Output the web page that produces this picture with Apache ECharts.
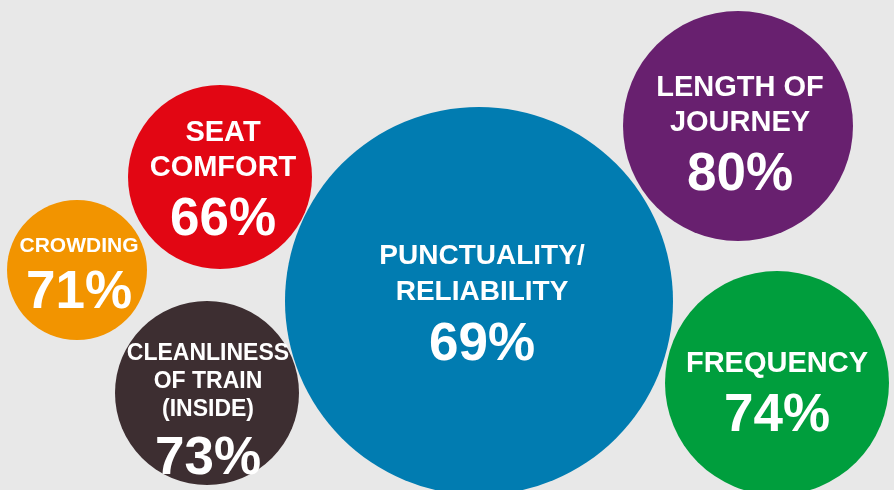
<!DOCTYPE html>
<html>
<head>
<meta charset="utf-8">
<script src="https://cdn.jsdelivr.net/npm/echarts@6/dist/echarts.min.js"></script>
<style>
html,body{margin:0;padding:0;background:#e8e8e8;}
#chart{width:894px;height:490px;}
</style>
</head>
<body>
<div id="chart"></div>
<script>
// Categories and satisfaction values
var categories = ['PUNCTUALITY/\nRELIABILITY', 'LENGTH OF\nJOURNEY', 'FREQUENCY', 'SEAT\nCOMFORT', 'CROWDING', 'CLEANLINESS\nOF TRAIN\n(INSIDE)'];
var satisfaction = [69, 80, 74, 66, 71, 73];
// Bubble layout (chart units) and bubble radius
var bubbleX = [479, 738, 777, 220, 77, 207];
var bubbleY = [301, 126, 383, 177, 270, 393];
var bubbleR = [194, 115, 112, 92, 70, 92];

var colors = ['#017cb1', '#68206f', '#009e3d', '#e20613', '#f29400', '#3d2e31'];
var nameFont = [28, 29, 29, 29, 21, 23];
var nameLH = [36, 35, 35, 35, 24, 28];
var labelOffset = [[3, 8], [2, 14], [0, 16], [3, 8], [2, 11], [1, 24]];

var data = categories.map(function (c, i) {
  return {
    name: c,
    value: [bubbleX[i], bubbleY[i], satisfaction[i]],
    symbolSize: bubbleR[i] * 2,
    itemStyle: { color: colors[i], opacity: 1 },
    label: {
      show: true,
      position: 'inside',
      offset: labelOffset[i],
      formatter: '{n|' + c + '}\n{v|' + satisfaction[i] + '%}',
      rich: {
        n: { fontSize: nameFont[i], lineHeight: nameLH[i], fontWeight: 'bold', color: '#fff', fontFamily: 'Liberation Sans, Arial, sans-serif', align: 'center' },
        v: { fontSize: 53, lineHeight: 70, fontWeight: 'bold', color: '#fff', fontFamily: 'Liberation Sans, Arial, sans-serif', align: 'center' }
      }
    }
  };
});

var chart = echarts.init(document.getElementById('chart'), null, { renderer: 'canvas' });
chart.setOption({
  backgroundColor: '#e8e8e8',
  animation: false,
  grid: { left: 0, right: 0, top: 0, bottom: 0 },
  xAxis: { type: 'value', min: 0, max: 894, show: false },
  yAxis: { type: 'value', min: 0, max: 490, inverse: true, show: false },
  series: [{
    type: 'scatter',
    symbol: 'circle',
    data: data,
    itemStyle: { opacity: 1 },
    emphasis: { disabled: true },
    label: { show: true }
  }]
});
</script>
</body>
</html>
